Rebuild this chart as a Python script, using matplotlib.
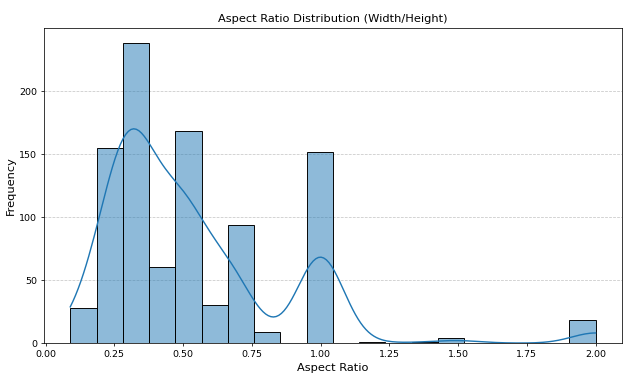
import matplotlib
matplotlib.use("Agg")
import matplotlib.pyplot as plt
import seaborn as sns
import numpy as np

# Distinct aspect ratios and how many images have each
ratios = [0.09, 0.12, 0.15, 0.18,
          0.20, 0.25, 0.27,
          0.30, 0.333, 0.35,
          0.40, 0.43, 0.46,
          0.48, 0.50, 0.54,
          0.58, 0.60,
          0.667, 0.70,
          0.77,
          1.00,
          1.20,
          1.40,
          1.50,
          2.00]
counts = [7, 7, 7, 7,
          45, 70, 40,
          60, 120, 58,
          20, 20, 20,
          40, 90, 38,
          15, 15,
          75, 19,
          9,
          152,
          1,
          1,
          4,
          18]

data = np.repeat(ratios, counts)

fig = plt.figure(figsize=(624 / 68, 375 / 68), dpi=68)
ax = fig.add_axes([0.0705, 0.085, 0.926, 0.84])
sns.histplot(x=data, bins=20, kde=True, ax=ax,
             color="#1f77b4", edgecolor="black", alpha=0.5, linewidth=1.0,
             line_kws={"linewidth": 1.5})
ax.set_title("Aspect Ratio Distribution (Width/Height)", fontsize=12)
ax.set_xlabel("Aspect Ratio", fontsize=12)
ax.set_ylabel("Frequency", fontsize=12)
ax.tick_params(labelsize=10)
ax.grid(axis="y", linestyle="--", alpha=0.7)
ax.set_axisbelow(True)
fig.savefig("out.png", dpi=68)
